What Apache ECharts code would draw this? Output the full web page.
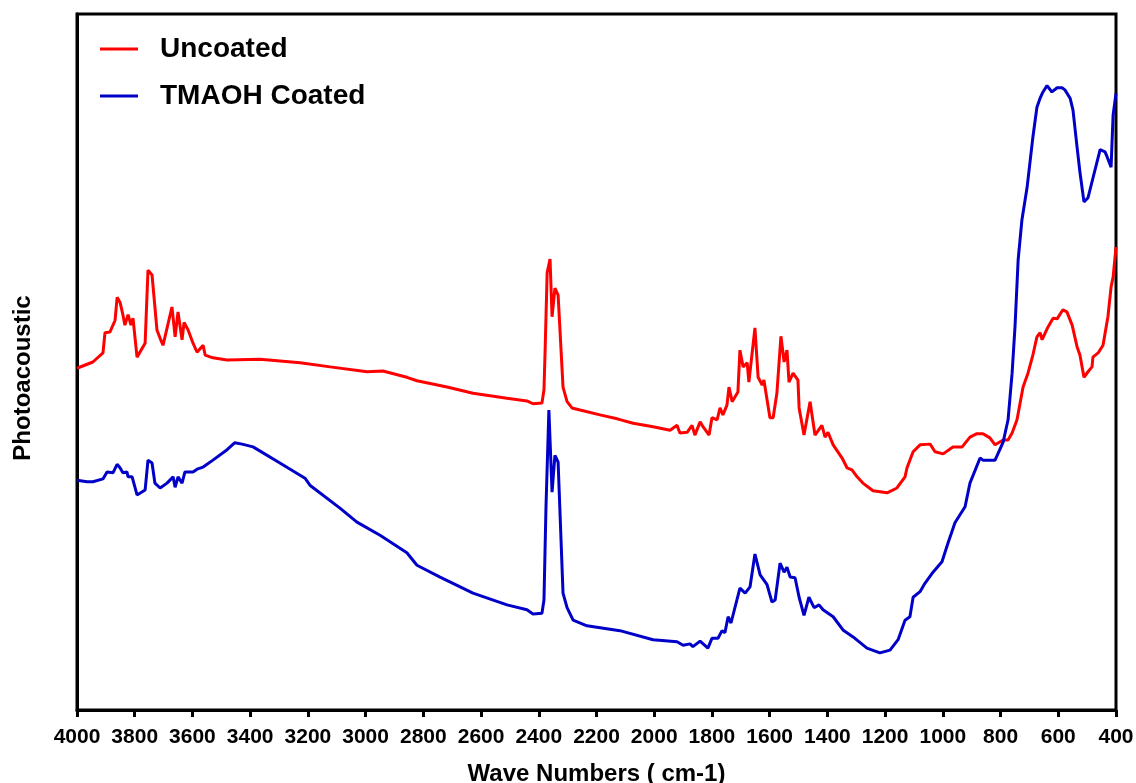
<!DOCTYPE html>
<html>
<head>
<meta charset="utf-8">
<script src="https://cdn.jsdelivr.net/npm/echarts@6/dist/echarts.min.js"></script>
<style>
  html, body { margin: 0; padding: 0; background: #fff; }
  #chart { width: 1136px; height: 783px; }
</style>
</head>
<body>
<div id="chart"></div>
<script>
// wave numbers (cm-1) and photoacoustic signal (arb. units)
const uncoatedWave = [4000, 3945, 3910, 3903, 3886, 3868, 3861, 3851, 3841, 3834, 3823, 3813, 3806, 3792, 3764, 3754, 3740, 3723, 3712, 3702, 3671, 3660, 3650, 3636, 3629, 3615, 3598, 3584, 3563, 3556, 3529, 3480, 3366, 3227, 3123, 2995, 2940, 2857, 2822, 2718, 2628, 2510, 2441, 2420, 2389, 2382, 2378, 2371, 2361, 2354, 2344, 2333, 2316, 2302, 2285, 2257, 2188, 2125, 2073, 2004, 1945, 1921, 1911, 1886, 1869, 1859, 1841, 1831, 1810, 1800, 1782, 1772, 1762, 1748, 1741, 1730, 1710, 1703, 1692, 1678, 1672, 1651, 1640, 1626, 1620, 1599, 1588, 1575, 1561, 1550, 1540, 1533, 1519, 1502, 1498, 1481, 1460, 1443, 1419, 1408, 1398, 1380, 1349, 1332, 1315, 1297, 1277, 1242, 1193, 1159, 1131, 1124, 1103, 1079, 1044, 1027, 999, 965, 933, 906, 882, 861, 837, 819, 791, 774, 760, 743, 722, 705, 688, 674, 663, 656, 636, 618, 604, 584, 570, 552, 535, 525, 511, 497, 483, 480, 462, 445, 428, 417, 410, 400]
const uncoatedVal = [49.1, 50.0, 51.3, 54.2, 54.3, 56.0, 59.3, 58.6, 56.8, 55.3, 56.8, 55.3, 56.3, 50.7, 52.7, 63.2, 62.5, 54.6, 53.4, 52.4, 57.9, 53.6, 57.2, 53.2, 55.7, 54.6, 52.7, 51.4, 52.4, 51.0, 50.6, 50.3, 50.4, 49.9, 49.3, 48.6, 48.7, 47.8, 47.3, 46.4, 45.5, 44.8, 44.4, 44.0, 44.1, 46.0, 51.7, 62.8, 64.8, 56.5, 60.6, 59.6, 46.4, 44.3, 43.4, 43.1, 42.4, 41.8, 41.2, 40.7, 40.2, 40.9, 39.8, 39.9, 40.9, 39.5, 41.4, 40.7, 39.5, 42.0, 41.7, 43.4, 42.4, 43.8, 46.4, 44.3, 45.7, 51.7, 49.3, 49.9, 47.1, 54.9, 47.8, 46.7, 47.4, 42.0, 42.0, 45.5, 53.7, 50.0, 51.7, 47.1, 48.4, 47.4, 43.4, 39.5, 44.3, 39.5, 40.9, 39.2, 39.9, 38.1, 36.2, 34.8, 34.5, 33.5, 32.6, 31.5, 31.2, 31.9, 33.5, 34.8, 37.1, 38.1, 38.2, 37.1, 36.8, 37.8, 37.8, 39.2, 39.7, 39.7, 39.1, 38.1, 38.8, 38.8, 39.8, 41.7, 46.4, 48.4, 51.0, 53.6, 54.2, 53.2, 55.0, 56.3, 56.2, 57.5, 57.2, 55.3, 52.2, 51.0, 47.8, 48.6, 49.3, 50.7, 51.3, 52.4, 56.5, 60.8, 62.2, 66.5]

const coatedWave = [4000, 3965, 3945, 3910, 3896, 3875, 3861, 3851, 3841, 3827, 3823, 3809, 3792, 3764, 3754, 3740, 3730, 3712, 3688, 3667, 3660, 3650, 3636, 3626, 3598, 3584, 3563, 3529, 3480, 3453, 3428, 3390, 3297, 3210, 3193, 3089, 3030, 2950, 2857, 2822, 2742, 2628, 2510, 2441, 2420, 2389, 2382, 2375, 2365, 2354, 2344, 2333, 2316, 2302, 2281, 2233, 2119, 2004, 1921, 1900, 1876, 1866, 1841, 1814, 1800, 1779, 1765, 1755, 1744, 1734, 1703, 1685, 1668, 1651, 1633, 1609, 1592, 1581, 1564, 1550, 1540, 1529, 1512, 1498, 1481, 1464, 1446, 1429, 1415, 1380, 1346, 1311, 1263, 1218, 1183, 1155, 1131, 1114, 1103, 1079, 1062, 1034, 1003, 982, 958, 923, 906, 871, 861, 819, 791, 774, 760, 750, 739, 726, 708, 688, 674, 663, 653, 639, 622, 604, 587, 577, 559, 549, 535, 525, 511, 497, 480, 455, 438, 431, 417, 410, 400]
const coatedVal = [33.0, 32.8, 32.8, 33.2, 34.2, 34.1, 35.3, 34.8, 34.1, 34.2, 33.5, 33.5, 30.9, 31.6, 35.9, 35.5, 32.6, 31.9, 32.6, 33.5, 32.0, 33.5, 32.6, 34.2, 34.2, 34.6, 34.9, 35.9, 37.4, 38.4, 38.2, 37.8, 35.5, 33.3, 32.3, 29.0, 27.0, 25.1, 22.6, 20.8, 19.1, 16.8, 15.1, 14.4, 13.8, 13.9, 15.8, 29.2, 43.1, 31.3, 36.6, 35.6, 16.8, 14.7, 12.9, 12.1, 11.4, 10.1, 9.8, 9.3, 9.5, 9.1, 9.9, 8.9, 10.3, 10.3, 11.4, 11.1, 13.4, 12.5, 17.5, 16.8, 17.7, 22.4, 19.4, 18.0, 15.5, 15.8, 21.1, 19.8, 20.5, 19.1, 19.0, 16.2, 13.6, 16.2, 14.7, 15.1, 14.4, 13.4, 11.5, 10.5, 8.9, 8.2, 8.6, 10.1, 12.9, 13.4, 16.2, 17.0, 18.2, 19.8, 21.3, 24.0, 26.9, 29.2, 32.6, 36.2, 35.9, 35.9, 38.5, 41.7, 48.4, 55.0, 64.7, 70.4, 75.1, 82.3, 86.6, 87.9, 88.8, 89.7, 88.8, 89.4, 89.4, 89.1, 87.9, 86.2, 80.9, 77.3, 73.0, 73.6, 76.4, 80.5, 80.2, 79.5, 78.0, 85.5, 88.6]

const xTicks = { min: 400, max: 4000, step: 200 }

const zip = (xs, ys) => xs.map((x, i) => [x, ys[i]])

const chart = echarts.init(document.getElementById('chart'), null, { renderer: 'canvas' })
const font = 'Liberation Sans, Arial, sans-serif'

chart.setOption({
  animation: false,
  backgroundColor: '#fff',
  grid: {
    left: 77,
    right: 20,
    top: 14,
    bottom: 73,
    outerBoundsMode: 'none',
    show: true,
    borderColor: '#000',
    borderWidth: 3
  },
  legend: {
    orient: 'vertical',
    left: 100,
    top: 35,
    padding: 0,
    itemWidth: 38,
    itemHeight: 3,
    itemGap: 19,
    icon: 'rect',
    textStyle: {
      fontFamily: font,
      fontWeight: 'bold',
      fontSize: 28,
      lineHeight: 28,
      color: '#000',
      padding: [0, 0, 0, 17]
    },
    data: ['Uncoated', 'TMAOH Coated']
  },
  xAxis: {
    type: 'value',
    inverse: true,
    min: xTicks.min,
    max: xTicks.max,
    interval: xTicks.step,
    name: 'Wave Numbers ( cm-1)',
    nameLocation: 'middle',
    nameGap: 52,
    nameTextStyle: { fontFamily: font, fontWeight: 'bold', fontSize: 24, color: '#000' },
    axisLine: { lineStyle: { color: '#000', width: 3 } },
    axisTick: { length: 7, lineStyle: { color: '#000', width: 3 } },
    axisLabel: {
      fontFamily: font, fontWeight: 'bold', fontSize: 21, color: '#000', margin: 17,
      formatter: v => String(v)
    },
    splitLine: { show: false }
  },
  yAxis: {
    type: 'value',
    min: 0,
    max: 100,
    name: 'Photoacoustic',
    nameLocation: 'middle',
    nameGap: 42,
    nameTextStyle: {
      fontFamily: font, fontWeight: 'bold', fontSize: 24, color: '#000',
      padding: [0, 32, 0, 0]
    },
    axisLine: { show: true, lineStyle: { color: '#000', width: 3 } },
    axisTick: { show: false },
    axisLabel: { show: false },
    splitLine: { show: false }
  },
  series: [{
    name: 'Uncoated',
    type: 'line',
    showSymbol: false,
    color: '#ff0000',
    lineStyle: { width: 3 },
    data: zip(uncoatedWave, uncoatedVal)
  }, {
    name: 'TMAOH Coated',
    type: 'line',
    showSymbol: false,
    color: '#0000c8',
    lineStyle: { width: 3 },
    data: zip(coatedWave, coatedVal)
  }]
})
</script>
</body>
</html>
